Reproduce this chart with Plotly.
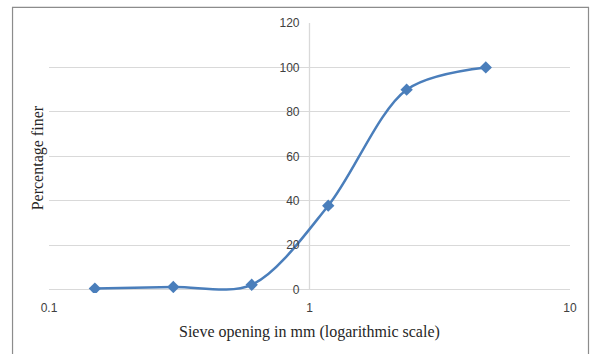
import plotly.graph_objects as go

sieve_mm = [0.15, 0.3, 0.6, 1.18, 2.36, 4.75]
percent_finer = [0.5, 1.2, 2.2, 37.8, 90.0, 100.0]
x_ticks = [0.1, 1, 10]
x_tick_labels = ["0.1", "1", "10"]
y_ticks = [0, 20, 40, 60, 80, 100, 120]

fig = go.Figure()
fig.add_trace(go.Scatter(
    x=sieve_mm, y=percent_finer, mode="lines+markers",
    line=dict(color="#4A7EBB", width=2.5, shape="spline", smoothing=0.9),
    marker=dict(symbol="diamond", size=9.5, color="#4A7EBB"),
    showlegend=False, hoverinfo="skip",
))

# y-axis line at x = 1
fig.add_shape(type="line", xref="x", yref="y", x0=1, x1=1, y0=0, y1=120,
              line=dict(color="#D9D9D9", width=1.3), layer="below")
# chart border
fig.add_shape(type="rect", xref="paper", yref="paper",
              x0=-0.0700, x1=1.0355, y0=-0.26, y1=1.058,
              line=dict(color="#8C8C8C", width=1.2), fillcolor="rgba(0,0,0,0)")

fig.update_layout(
    width=591, height=354,
    margin=dict(l=49, r=21, t=23, b=61),
    paper_bgcolor="white", plot_bgcolor="white",
    xaxis=dict(type="log", range=[-1, 1], tickvals=x_ticks, ticktext=x_tick_labels,
               showgrid=False, zeroline=False, showline=False, ticks="",
               ticklabelstandoff=6,
               tickfont=dict(family="Liberation Sans", size=12, color="#404040")),
    yaxis=dict(range=[-1.5, 120], tickvals=y_ticks, anchor="free", position=0.5,
               showgrid=True, gridcolor="#D9D9D9", gridwidth=1.3,
               zeroline=False, showline=False, ticks="",
               ticklabelstandoff=10,
               tickfont=dict(family="Liberation Sans", size=12, color="#404040")),
    annotations=[
        dict(text="Sieve opening in mm (logarithmic scale)", xref="paper", yref="paper",
             x=0.5, y=-0.105, xanchor="center", yanchor="top", showarrow=False,
             font=dict(family="Liberation Serif", size=16, color="#262626")),
        dict(text="Percentage finer", xref="paper", yref="paper",
             x=-0.0205, y=0.5, xanchor="center", yanchor="middle", textangle=-90,
             showarrow=False,
             font=dict(family="Liberation Serif", size=16, color="#262626")),
    ],
)

fig.write_html("out.html", config={"displayModeBar": False},
               post_script="document.body.style.margin='0';document.body.style.overflow='hidden';")
